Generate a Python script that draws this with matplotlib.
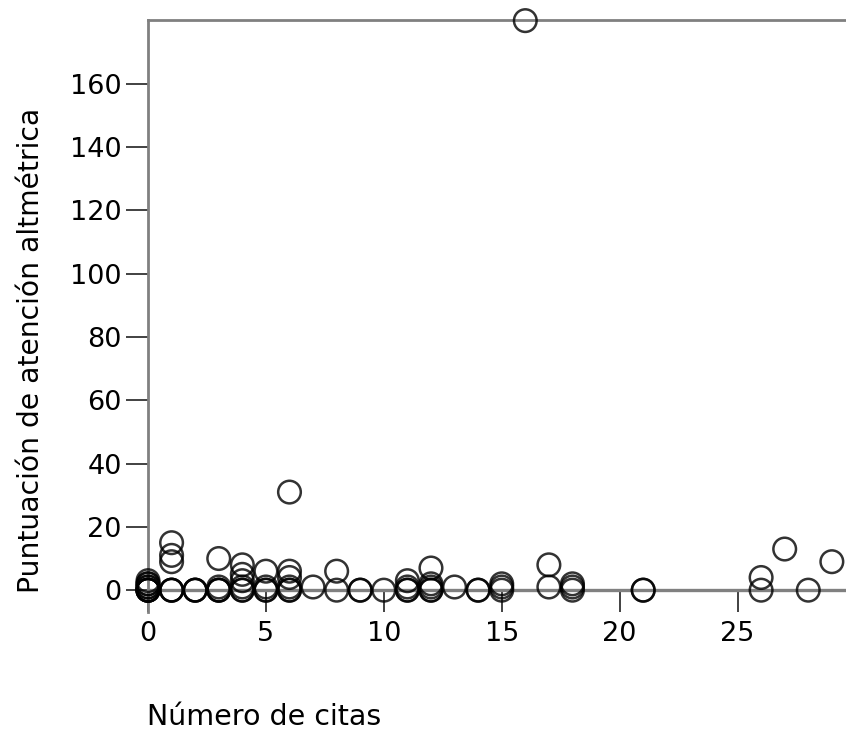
import matplotlib.pyplot as plt
import numpy as np

# Número de citas (x) y puntuación altmétrica (y)
citas = [0, 0, 0, 0, 0, 0, 0, 0, 0, 0,
         1, 1, 1, 1, 1, 1,
         2, 2, 2,
         3, 3, 3, 3, 3,
         4, 4, 4, 4, 4, 4,
         5, 5, 5, 5,
         6, 6, 6, 6, 6, 6,
         7,
         8, 8,
         9, 9,
         10,
         11, 11, 11, 11,
         12, 12, 12, 12, 12,
         13,
         14, 14,
         15, 15, 15,
         16,
         17, 17,
         18, 18, 18,
         21, 21,
         26, 26,
         27,
         28,
         29]
puntuacion = [0, 0, 0, 0, 1, 2, 3, 1, 0, 2,
              0, 0, 0, 9, 11, 15,
              0, 0, 0,
              0, 0, 0, 1, 10,
              0, 0, 1, 3, 5, 8,
              0, 0, 1, 6,
              0, 0, 1, 4, 6, 31,
              1,
              0, 6,
              0, 0,
              0,
              0, 0, 1, 3,
              0, 0, 1, 2, 7,
              1,
              0, 0,
              0, 1, 2,
              180,
              1, 8,
              0, 1, 2,
              0, 0,
              0, 4,
              13,
              0,
              9]

xticks = [0, 5, 10, 15, 20, 25]
yticks = [0, 20, 40, 60, 80, 100, 120, 140, 160]

fig = plt.figure(figsize=(8.46, 7.34), dpi=100)
ax = fig.add_axes([148 / 846, 1 - 612 / 734, 1 - 148 / 846, (612 - 20) / 734])

ax.scatter(citas, puntuacion, s=265, facecolors='none', edgecolors='black',
           linewidths=1.8, alpha=0.8, clip_on=False, zorder=3)

ax.set_xlim(0, 29.6)
ax.set_ylim(-6.9, 180.2)

spine_col = '#808080'
ax.spines['right'].set_visible(False)
ax.spines['top'].set_color(spine_col)
ax.spines['top'].set_linewidth(2)
ax.spines['left'].set_color(spine_col)
ax.spines['left'].set_linewidth(2)
ax.spines['bottom'].set_position(('data', 0))
ax.spines['bottom'].set_color(spine_col)
ax.spines['bottom'].set_linewidth(2.4)

ax.set_xticks(xticks)
ax.set_yticks(yticks)
ax.tick_params(axis='both', direction='out', length=16, width=1.3,
               color='#333333', labelsize=19.5, labelcolor='black')
ax.tick_params(axis='x', pad=6)
ax.tick_params(axis='y', pad=3)

fig.text(31 / 846, 1 - 350 / 734, 'Puntuación de atención altmétrica',
         rotation=90, ha='center', va='center', fontsize=20.3)
fig.text(147 / 846, 1 - 717 / 734, 'Número de citas',
         ha='left', va='center', fontsize=20.5)

fig.savefig('out.png', dpi=100)
